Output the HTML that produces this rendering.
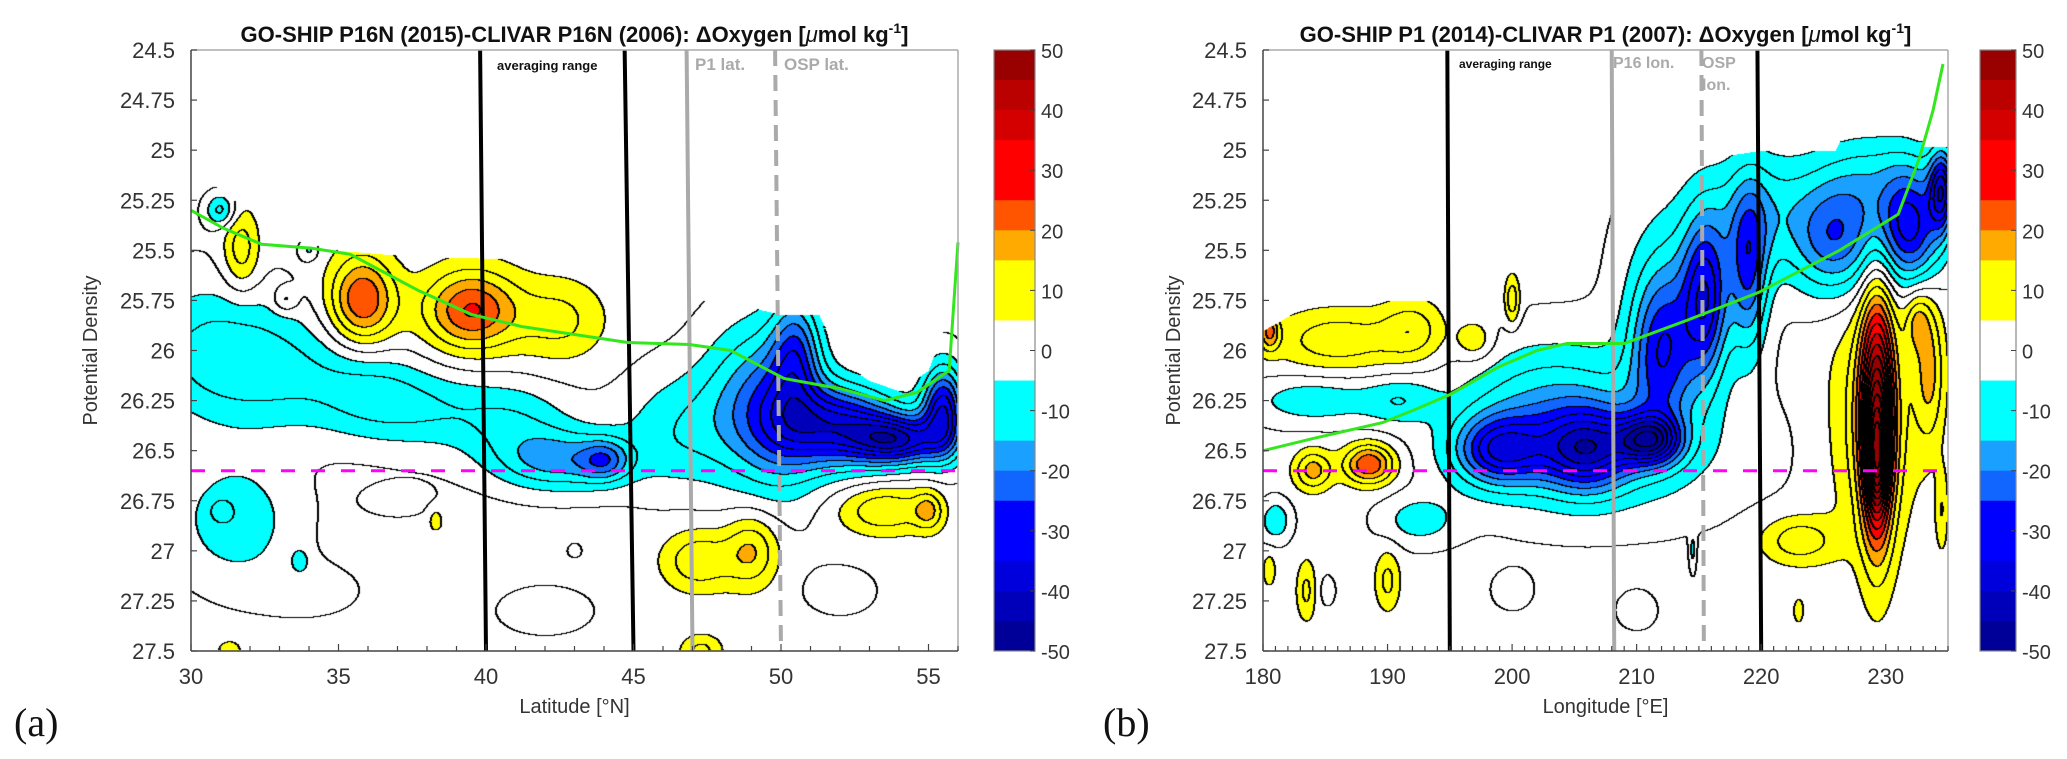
<!DOCTYPE html>
<html><head><meta charset="utf-8">
<style>
body{margin:0;background:#fff;}
#wrap{position:relative;width:2067px;height:759px;overflow:hidden;background:#fff;font-family:"Liberation Sans",sans-serif;}
canvas{position:absolute;}
svg{position:absolute;left:0;top:0;}
</style></head>
<body>
<div id="wrap">
<canvas id="cL" style="left:191px;top:50px" width="767" height="601"></canvas>
<canvas id="cR" style="left:1263px;top:50px" width="685" height="601"></canvas>
<svg id="ov" width="2067" height="759"></svg>
</div>
<script>
// ---------- data ----------
// left panel blobs: [lat, sigma, amplitude, widthLat, widthSigma]
const leftBlobs = [
 [30.5,26.0,-11,2.5,0.35],[33,26.1,-10,2.5,0.3],[36,26.2,-9,2,0.22],[38,26.3,-9,2.5,0.2],[41,26.35,-9,2,0.2],
 [46.5,26.4,-10,2,0.3],[48.5,26.25,-10,1.5,0.4],
 [31.5,26.85,-10,2,0.3],[31,26.8,-6,0.4,0.06],
 [42.5,26.55,-18,2.2,0.15],[44,26.55,-15,0.8,0.1],
 [50,26.3,-22,1.5,0.4],[52,26.38,-34,2,0.2],[54,26.45,-34,1.5,0.12],[55.5,26.3,-34,0.7,0.22],[50.5,26.0,-18,0.8,0.28],
 [31.7,25.5,12,0.6,0.2],[33.2,25.75,8,0.4,0.06],[35.8,25.75,24,1.1,0.22],[39.5,25.8,24,1.6,0.2],[42.5,25.85,10,1.5,0.2],
 [47.2,27.05,13,1.2,0.15],[49,27.0,14,0.9,0.18],[53.5,26.8,13,1.5,0.12],[55,26.8,12,0.5,0.1],[47.3,27.5,10,0.7,0.08],
 [31.3,27.5,8,0.4,0.05],[38.3,26.85,7,0.25,0.06],
 [31,25.3,-13,0.5,0.08],[34,25.5,-7,0.3,0.05],[43,27,-6,0.2,0.03],[33.7,27.05,-7,0.3,0.06],
 [34,27.2,-3,2,0.15],[42,27.3,-3,2,0.15],[37,26.75,-3,1.5,0.1],[52,27.2,-3,1.5,0.15]
];
const leftMaskLat = [30,31,33.5,35,37.5,43,45,46.5,48,50,51.3,52,53,54,55,55.5,56];
const leftMaskSig = [25.08,25.2,25.45,25.5,25.53,25.55,25.65,25.75,25.75,25.82,25.82,26.05,26.15,26.2,26.1,25.9,25.4];
const leftGreenLat = [30,31.1,32.4,34.1,35.4,37.7,39.5,41.2,44.8,46.9,48.3,50.1,52,53.5,54.6,55.7,56];
const leftGreenSig = [25.3,25.39,25.47,25.49,25.52,25.7,25.82,25.88,25.96,25.97,26.0,26.14,26.19,26.25,26.21,26.1,25.46];

// right panel blobs: [lon, sigma, amplitude, widthLon, widthSigma]
const rightBlobs = [
 [186,25.95,12,5,0.15],[192,25.9,11,2.5,0.15],[180.5,25.9,18,0.8,0.1],[197,25.95,9,1.5,0.1],[200,25.75,13,0.6,0.12],
 [184,26.25,-10,5,0.12],[191,26.25,-9,3,0.12],
 [188.5,26.57,24,2,0.1],[184,26.6,16,1.5,0.1],
 [181,26.85,-11,1.2,0.1],[192.5,26.85,-9,3,0.12],
 [199,26.5,-28,3.5,0.17],[206,26.5,-30,3.5,0.2],[211,26.45,-34,2.5,0.12],[212,26.0,-26,2.5,0.4],
 [215.5,25.75,-28,1.8,0.4],[219,25.6,-22,1.5,0.4],[203,26.3,-14,7,0.35],
 [208,26.5,-8,12,0.35],[214,25.6,-8,5,0.5],[220,25.3,-12,4,0.3],
 [226,25.45,-24,3.5,0.28],[232,25.4,-30,2.5,0.28],[234.5,25.2,-32,1,0.2],[229,25.15,-12,5,0.25],
 [229.3,26.35,46,1.3,0.6],[229.3,26.55,20,0.7,0.25],[229,26.35,12,3.5,0.6],
 [223,26.95,12,3,0.12],[233.5,26.1,14,1.2,0.35],[232.5,25.85,12,1,0.15],[234.5,26.8,8,0.5,0.2],
 [180.5,27.1,8,0.5,0.08],[183.5,27.2,10,0.8,0.15],[190,27.15,10,1,0.15],[223,27.3,8,0.4,0.06],
 [214.5,27.0,-7,0.25,0.1],[185,27.2,-3,1,0.1],[200,27.2,-3,2,0.12],[210,27.3,-3,2,0.12]
];
const rightMaskLon = [180,181.5,184,194.5,195,198.5,199,201,203,205.5,206,208,211,213,215,220,226,227,232.5,233,235];
const rightMaskSig = [25.9,25.85,25.75,25.75,25.8,25.8,25.6,25.6,25.5,25.48,25.4,25.3,25.25,25.1,25.05,25.0,25.0,24.87,24.87,24.98,24.98];
const rightGreenLon = [180,184,189.6,192,195,199,202,204.4,209,214,219.8,226.3,231,232.7,233.8,234.6];
const rightGreenSig = [26.5,26.44,26.36,26.3,26.22,26.08,26.0,25.965,25.965,25.85,25.71,25.5,25.32,25.04,24.8,24.57];

const sigmaTicks = [24.5,24.75,25,25.25,25.5,25.75,26,26.25,26.5,26.75,27,27.25,27.5];
const sigmaTickLabels = ["24.5","24.75","25","25.25","25.5","25.75","26","26.25","26.5","26.75","27","27.25","27.5"];
const latTicks = [30,35,40,45,50,55];
const lonTicks = [180,190,200,210,220,230];
const cbarTicks = [50,40,30,20,10,0,-10,-20,-30,-40,-50];
const magentaSigma = 26.6;

// ---------- axes ----------
const Y0=50, Y1=651;
const yS = s => Y0 + (s-24.5)*(Y1-Y0)/3;
const xL = v => 191 + (v-30)*(958-191)/26;
const xR = v => 1263 + (v-180)*(1948-1263)/55;
const yC = v => Y0 + (50-v)*(Y1-Y0)/100;

function colorOf(v){
  if(v<-45) return [0,0,153]; if(v<-40) return [0,0,187]; if(v<-35) return [0,0,221];
  if(v<-25) return [0,0,255]; if(v<-20) return [17,102,255]; if(v<-15) return [26,160,255];
  if(v<-5) return [0,255,255]; if(v<5) return [255,255,255]; if(v<15) return [255,255,0];
  if(v<20) return [255,170,0]; if(v<25) return [255,85,0]; if(v<35) return [255,0,0];
  if(v<40) return [212,0,0]; if(v<45) return [187,0,0]; return [153,0,0];
}
function interp(xs,ys,x){
  if(x<=xs[0]) return ys[0];
  for(let i=1;i<xs.length;i++){ if(x<=xs[i]){const t=(x-xs[i-1])/(xs[i]-xs[i-1]);return ys[i-1]+t*(ys[i]-ys[i-1]);} }
  return ys[ys.length-1];
}
function drawField(cv, x0, xFn, blobs, mX, mS){
  const W=cv.width,H=cv.height,ctx=cv.getContext('2d');
  const a=xFn(0), b=xFn(1)-xFn(0);
  const vals=new Float32Array(W*H), mask=new Uint8Array(W*H);
  for(let i=0;i<W;i++){
    const xv=(x0+i+0.5-a)/b;
    const top=yS(interp(mX,mS,xv))-Y0;
    const bl=blobs.filter(p=>Math.abs(xv-p[0])<p[3]*4.5);
    for(let j=0;j<H;j++){
      const sv=24.5+(j+0.5)*3/(Y1-Y0);
      let v=1.5;
      for(const p of bl){const dx=(xv-p[0])/p[3],dy=(sv-p[1])/p[4];const r=dx*dx+dy*dy;if(r<20)v+=p[2]*Math.exp(-r);}
      vals[j*W+i]=v; mask[j*W+i]= j>=top?1:0;
    }
  }
  const img=ctx.createImageData(W,H),d=img.data;
  const idx=new Int16Array(W*H);
  for(let k=0;k<W*H;k++){
    idx[k]=Math.floor(vals[k]/5);
    const c=mask[k]?colorOf(vals[k]):[255,255,255];
    d[k*4]=c[0];d[k*4+1]=c[1];d[k*4+2]=c[2];d[k*4+3]=255;
  }
  for(let j=0;j<H-1;j++)for(let i=0;i<W-1;i++){
    const k=j*W+i;
    if(!mask[k]) continue;
    if((mask[k+1]&&idx[k]!==idx[k+1])||(mask[k+W]&&idx[k]!==idx[k+W])){
      d[k*4]=d[k*4+1]=d[k*4+2]=0;
      const k2=k+1; d[k2*4]=d[k2*4+1]=d[k2*4+2]=0;
    }
  }
  ctx.putImageData(img,0,0);
}
drawField(document.getElementById('cL'),191,xL,leftBlobs,leftMaskLat,leftMaskSig);
drawField(document.getElementById('cR'),1263,xR,rightBlobs,rightMaskLon,rightMaskSig);

// ---------- SVG overlay ----------
const NS='http://www.w3.org/2000/svg', svg=document.getElementById('ov');
function el(tag,attrs,parent){const e=document.createElementNS(NS,tag);for(const k in attrs)e.setAttribute(k,attrs[k]);(parent||svg).appendChild(e);return e;}
function txt(s,attrs,parent){const e=el('text',attrs,parent);e.textContent=s;return e;}

function panel(p){
  const g=el('g',{});
  
  
  p.vlines.forEach(v=>{
    const l=el('line',{x1:p.xf(v.top),y1:Y0,x2:p.xf(v.bot),y2:Y1,stroke:v.color,'stroke-width':4,'stroke-dasharray':v.dash||'none'},g);
    
    
  });
  const m=el('line',{x1:p.xf(p.x0),x2:p.xf(p.x1),y1:yS(magentaSigma),y2:yS(magentaSigma),stroke:'#ff00ff','stroke-width':3,'stroke-dasharray':'14 16'},g);
  
  
  const pts=p.gx.map((x,i)=>p.xf(x).toFixed(1)+','+yS(p.gy[i]).toFixed(1)).join(' ');
  const gl=el('polyline',{points:pts,fill:'none',stroke:'#33e61e','stroke-width':3},g);
  
  
  const X0=p.xf(p.x0),X1=p.xf(p.x1);
  el('line',{x1:X0,y1:Y0,x2:X1,y2:Y0,stroke:'#aaa','stroke-width':1.5},g);
  el('line',{x1:X1,y1:Y0,x2:X1,y2:Y1,stroke:'#aaa','stroke-width':1.5},g);
  el('line',{x1:X0,y1:Y0,x2:X0,y2:Y1,stroke:'#444','stroke-width':1.5},g);
  el('line',{x1:X0,y1:Y1,x2:X1,y2:Y1,stroke:'#444','stroke-width':1.5},g);
  sigmaTicks.forEach((s,i)=>{
    el('line',{x1:X0,x2:X0+6,y1:yS(s),y2:yS(s),stroke:'#444','stroke-width':1.2},g);
    const t=txt(sigmaTickLabels[i],{x:X0-16,y:yS(s)+8,'text-anchor':'end','font-size':22,fill:'#333'},g);
    
    
  });
  for(let v=p.x0; v<=p.x1+0.001; v+=1){
    el('line',{x1:p.xf(v),x2:p.xf(v),y1:Y1,y2:Y1-(p.ticks.includes(v)?7:5),stroke:'#444','stroke-width':1.2},g);
  }
  p.ticks.forEach(v=>{
    const t=txt(String(v),{x:p.xf(v),y:Y1+33,'text-anchor':'middle','font-size':22,fill:'#333'},g);
    
    
  });
  const xt=txt(p.xtitle,{x:(X0+X1)/2,y:Y1+62,'text-anchor':'middle','font-size':20,fill:'#333'},g);
  
  
  const yt=txt('Potential Density',{x:0,y:0,transform:`translate(${p.ytx},${(Y0+Y1)/2}) rotate(-90)`,'text-anchor':'middle','font-size':20,fill:'#333'},g);
  
  
  const ti=txt('',{x:(X0+X1)/2,y:42,'text-anchor':'middle','font-size':22,'font-weight':'bold',fill:'#111'},g);
  ti.innerHTML=p.title+': ΔOxygen [<tspan font-style="italic" font-weight="normal">μ</tspan>mol kg<tspan dy="-9" font-size="14">-1</tspan><tspan dy="9">]</tspan>';
  
  
  p.labels.forEach(l=>{
    const t=txt(l.t,{x:l.x,y:l.y,'font-size':l.fs,'font-weight':'bold',fill:l.c},g);
    
    
  });
  const pl=txt(p.letter,{x:p.lx,y:736,'font-size':40,'font-family':'Liberation Serif, serif',fill:'#111'},g);
  
  
  const cb=el('g',{},g);
  
  
  for(let v=50; v>-50; v-=5){
    const c=colorOf(v-2.5);
    el('rect',{x:p.cb,y:yC(v),width:p.cbw,height:yC(v-5)-yC(v)+0.5,fill:`rgb(${c[0]},${c[1]},${c[2]})`},cb);
  }
  el('rect',{x:p.cb,y:Y0,width:p.cbw,height:Y1-Y0,fill:'none',stroke:'#888','stroke-width':1.2},cb);
  cbarTicks.forEach(v=>{
    el('line',{x1:p.cb+p.cbw-5,x2:p.cb+p.cbw,y1:yC(v),y2:yC(v),stroke:'#444','stroke-width':1},cb);
    txt(String(v),{x:p.cb+p.cbw+6,y:yC(v)+8,'font-size':20,fill:'#333'},cb);
  });
}
panel({name:'panel-a-p16n',xf:xL,x0:30,x1:56,ticks:latTicks,xtitle:'Latitude [°N]',ytx:97,
  title:'GO-SHIP P16N (2015)-CLIVAR P16N (2006)',gx:leftGreenLat,gy:leftGreenSig,letter:'(a)',lx:14,cb:994,cbw:41,
  vlines:[{top:39.8,bot:40.0,color:'#000',name:'averaging-start-line'},{top:44.7,bot:45.0,color:'#000',name:'averaging-end-line'},
          {top:46.8,bot:47.0,color:'#aaa',name:'p1-lat-line'},{top:49.8,bot:50.0,color:'#aaa',dash:'16 9',name:'osp-lat-line'}],
  labels:[{t:'averaging range',x:497,y:70,fs:13,c:'#111'},{t:'P1 lat.',x:695,y:70,fs:17,c:'#aaa'},{t:'OSP lat.',x:784,y:70,fs:17,c:'#aaa'}]});
panel({name:'panel-b-p1',xf:xR,x0:180,x1:235,ticks:lonTicks,xtitle:'Longitude [°E]',ytx:1180,
  title:'GO-SHIP P1 (2014)-CLIVAR P1 (2007)',gx:rightGreenLon,gy:rightGreenSig,letter:'(b)',lx:1103,cb:1980,cbw:36,
  vlines:[{top:194.8,bot:195.0,color:'#000',name:'averaging-start-line'},{top:208.0,bot:208.2,color:'#aaa',name:'p16-lon-line'},
          {top:215.2,bot:215.4,color:'#aaa',dash:'16 9',name:'osp-lon-line'},{top:219.7,bot:220.0,color:'#000',name:'averaging-end-line'}],
  labels:[{t:'averaging range',x:1459,y:68,fs:12,c:'#111'},{t:'P16 lon.',x:1613,y:68,fs:16,c:'#aaa'},{t:'OSP',x:1702,y:68,fs:16,c:'#aaa'},{t:'lon.',x:1702,y:90,fs:16,c:'#aaa'}]});
</script>
</body></html>
